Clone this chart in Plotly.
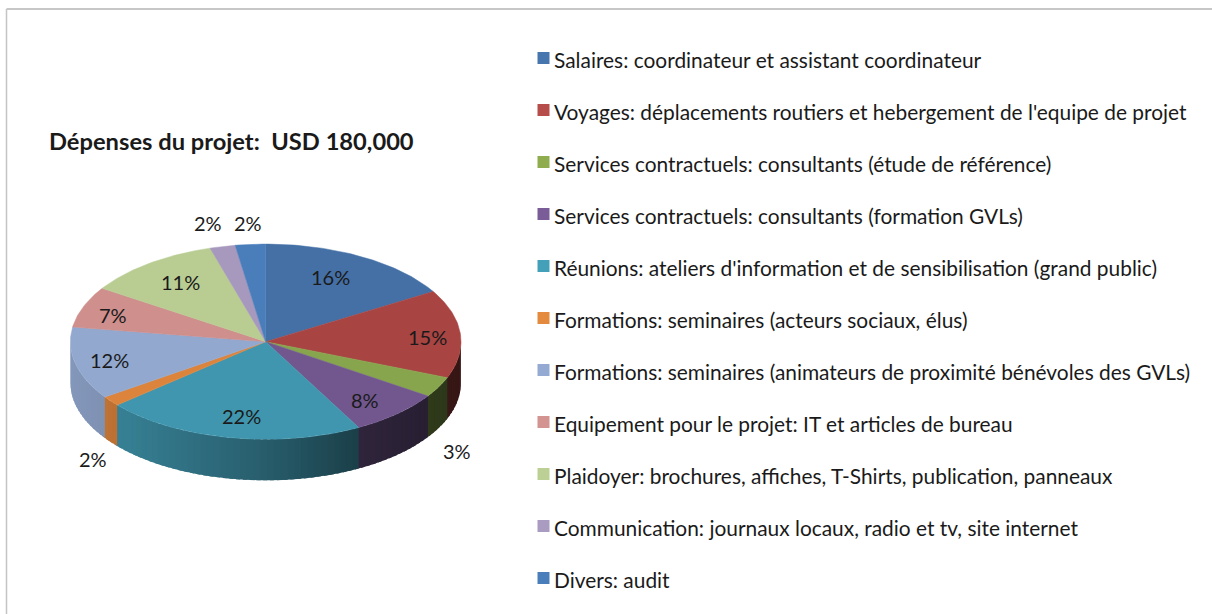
import numpy as np
import plotly.graph_objects as go

# ---- data ----
categories = [
    "Salaires: coordinateur et assistant coordinateur",
    "Voyages: déplacements routiers et hebergement de l'equipe de projet",
    "Services contractuels: consultants (étude de référence)",
    "Services contractuels: consultants (formation GVLs)",
    "Réunions: ateliers d'information et de sensibilisation (grand public)",
    "Formations: seminaires (acteurs sociaux, élus)",
    "Formations: seminaires (animateurs de proximité bénévoles des GVLs)",
    "Equipement pour le projet: IT et articles de bureau",
    "Plaidoyer: brochures, affiches, T-Shirts, publication, panneaux",
    "Communication: journaux locaux, radio et tv, site internet",
    "Divers: audit",
]
values = [16.4, 14.6, 3.4, 7.7, 21.65, 1.65, 12.0, 6.8, 11.2, 2.1, 2.5]
percent_labels = ["16%", "15%", "3%", "8%", "22%", "2%", "12%", "7%", "11%", "2%", "2%"]
title = "Dépenses du projet:  USD 180,000"

# ---- styles and layout ----
top_colors = ["#4570a6", "#a84442", "#87a54c", "#71578e", "#4096ae", "#dc843c",
              "#92a8cf", "#ce8f8d", "#b9cd93", "#a699bd", "#4a7ebb"]
legend_colors = ["#4676ad", "#b64d4b", "#8fac4f", "#7a5c99", "#44a0b8", "#e38a3e",
                 "#95aad2", "#d29391", "#bcd096", "#a99cc0", "#4a7ebb"]
CX, CY, RX, RY, DEPTH = 265.7, 341.7, 195.3, 97.6, 41
FONT = "Lato"
TEXT = "#1a1a1a"
LABEL_X = [330, 427, 457, 365, 241, 93, 109, 113, 180, 207.5, 248]
LABEL_Y = [277, 337, 451, 400, 416, 459, 360, 315, 282, 223, 223]


def hex_rgb(c):
    return np.array([int(c[i:i + 2], 16) for i in (1, 3, 5)], dtype=float)


def shade(color, angle):
    s = np.sin(angle)
    f = np.interp(s, [-1, -0.7, 0.0, 0.47, 1.0], [0.9, 0.84, 0.62, 0.42, 0.32])
    r = hex_rgb(color) * f
    return f"rgb({r[0]:.0f},{r[1]:.0f},{r[2]:.0f})"


fractions = np.array(values) / sum(values)
edges = np.concatenate([[0], np.cumsum(fractions)]) * 2 * np.pi
fig = go.Figure()

# side wall of the disc, in the front half only
STEP = np.radians(2)
for i, color in enumerate(top_colors):
    a0, a1 = max(edges[i], np.pi / 2), min(edges[i + 1], 3 * np.pi / 2)
    if a1 <= a0:
        continue
    n = max(1, int(np.ceil((a1 - a0) / STEP)))
    steps = np.linspace(a0, a1, n + 1)
    for s0, s1 in zip(steps[:-1], steps[1:]):
        # each strip runs a little past its end; the next strip paints over it
        end = min(s1 + STEP * 0.6, 3 * np.pi / 2)
        t = np.array([s0, (s0 + end) / 2, end])
        xs = CX + RX * np.sin(t)
        ys = CY - RY * np.cos(t)
        col = shade(color, (s0 + s1) / 2)
        fig.add_trace(go.Scatter(
            x=np.concatenate([xs, xs[::-1], xs[:1]]),
            y=np.concatenate([ys, ys[::-1] + DEPTH, ys[:1]]),
            mode="lines", fill="toself", fillcolor=col,
            line=dict(width=0), hoverinfo="skip", showlegend=False))

# top face
for i, color in enumerate(top_colors):
    t = np.linspace(edges[i], edges[i + 1], max(3, int(values[i] * 4)))
    xs = np.concatenate([[CX], CX + RX * np.sin(t), [CX]])
    ys = np.concatenate([[CY], CY - RY * np.cos(t), [CY]])
    fig.add_trace(go.Scatter(
        x=xs, y=ys, mode="lines", fill="toself", fillcolor=color,
        line=dict(color=color, width=0.5), name=categories[i],
        hoverinfo="name", showlegend=False))

# legend swatches
legend_y = [59 + 52 * i for i in range(len(categories))]
fig.add_trace(go.Scatter(
    x=[543.5] * len(categories), y=[y - 1 for y in legend_y], mode="markers",
    marker=dict(symbol="square", size=12, color=legend_colors, line=dict(width=0)),
    hoverinfo="skip", showlegend=False))

annotations = [dict(x=552, y=y, xref="x", yref="y", text=c, showarrow=False,
                    xanchor="left", yanchor="middle",
                    font=dict(family=FONT, size=20.9, color=TEXT))
               for c, y in zip(categories, legend_y)]
annotations += [dict(x=x, y=y, xref="x", yref="y", text=t, showarrow=False,
                     xanchor="center", yanchor="middle",
                     font=dict(family=FONT, size=20, color=TEXT))
                for t, x, y in zip(percent_labels, LABEL_X, LABEL_Y)]
annotations.append(dict(x=47, y=141, xref="x", yref="y", text=f"<b>{title}</b>",
                        showarrow=False, xanchor="left", yanchor="middle",
                        font=dict(family=FONT, size=23.7, color=TEXT)))

fig.update_layout(
    width=1212, height=614, margin=dict(l=0, r=0, t=0, b=0),
    paper_bgcolor="white", plot_bgcolor="white", showlegend=False,
    xaxis=dict(range=[0, 1212], visible=False, fixedrange=True),
    yaxis=dict(range=[614, 0], visible=False, fixedrange=True),
    annotations=annotations,
    shapes=[
        dict(type="line", xref="x", yref="y", x0=6.5, x1=1212, y0=9, y1=9,
             line=dict(color="#b5b5b5", width=1.5)),
        dict(type="line", xref="x", yref="y", x0=6.5, x1=6.5, y0=9, y1=614,
             line=dict(color="#c4c4c4", width=1.5)),
    ],
)
fig.write_html("out.html", config=dict(displayModeBar=False),
               post_script="document.body.style.margin='0';document.body.style.overflow='hidden';")
